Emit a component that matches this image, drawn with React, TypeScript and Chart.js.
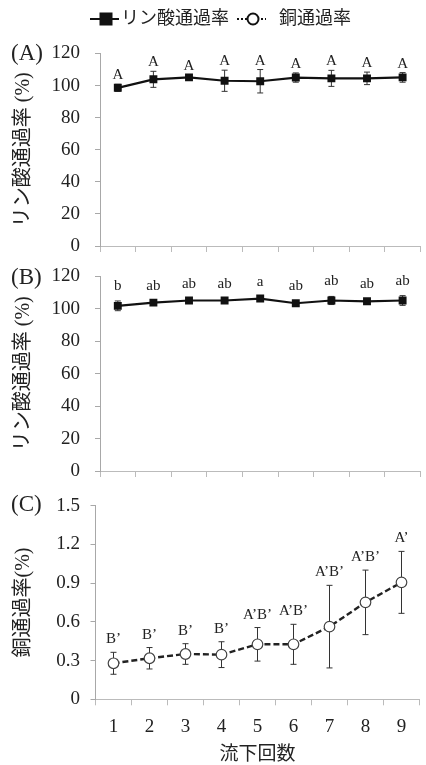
import React, { useEffect, useRef } from "react";
import { Chart, registerables } from "chart.js";

Chart.register(...registerables);

// ---------------- data ----------------
const categories = ["1", "2", "3", "4", "5", "6", "7", "8", "9"];

const phosA = [98.6, 103.9, 105.1, 103.0, 102.7, 105.0, 104.5, 104.5, 105.1];
const phosAErr = [2.2, 5.0, 1.6, 6.6, 7.3, 2.9, 5.0, 3.9, 3.0];
const phosALetters = ["A", "A", "A", "A", "A", "A", "A", "A", "A"];

const phosB = [101.9, 103.9, 105.2, 105.2, 106.4, 103.5, 105.2, 104.7, 105.2];
const phosBErr = [3.0, 1.2, 1.2, 1.2, 1.2, 1.2, 2.5, 1.2, 3.0];
const phosBLetters = ["b", "ab", "ab", "ab", "a", "ab", "ab", "ab", "ab"];

const copperC = [0.279, 0.318, 0.351, 0.346, 0.426, 0.426, 0.563, 0.751, 0.906];
const copperCErr = [0.085, 0.083, 0.08, 0.1, 0.13, 0.155, 0.32, 0.25, 0.24];
const copperCLetters = ["B’", "B’", "B’", "B’", "A’B’", "A’B’", "A’B’", "A’B’", "A’"];

const phosTicks = { min: 0, max: 120, step: 20 };
const copperTicks = { min: 0, max: 1.5, step: 0.3 };

const phosTitle = "リン酸通過率 (%)";
const copperTitle = "銅通過率(%)";
const xTitle = "流下回数";
const legendPhos = "リン酸通過率";
const legendCopper = "銅通過率";
const panelNames = ["(A)", "(B)", "(C)"];

// ---------------- styles ----------------
const SERIF = "'Liberation Serif', 'Noto Sans CJK JP', serif";
const CJK = "'Liberation Serif', 'Noto Sans CJK JP', sans-serif";
const TEXT = "#222";
const AXIS = "#a8a8a8";

function errorPlugin(err: number[], letters: string[], gap: number) {
  return {
    id: "errbars",
    beforeDatasetsDraw(chart: any) {
      const meta = chart.getDatasetMeta(0);
      const ys = chart.scales.y;
      const data = chart.data.datasets[0].data as number[];
      const ctx = chart.ctx;
      ctx.save();
      ctx.strokeStyle = "#333";
      ctx.lineWidth = 1;
      meta.data.forEach((pt: any, i: number) => {
        const top = ys.getPixelForValue(data[i] + err[i]);
        const bot = ys.getPixelForValue(data[i] - err[i]);
        ctx.beginPath();
        ctx.moveTo(pt.x, top);
        ctx.lineTo(pt.x, bot);
        ctx.moveTo(pt.x - 3, top);
        ctx.lineTo(pt.x + 3, top);
        ctx.moveTo(pt.x - 3, bot);
        ctx.lineTo(pt.x + 3, bot);
        ctx.stroke();
      });
      ctx.restore();
    },
    afterDatasetsDraw(chart: any) {
      const meta = chart.getDatasetMeta(0);
      const ys = chart.scales.y;
      const data = chart.data.datasets[0].data as number[];
      const ctx = chart.ctx;
      ctx.save();
      ctx.fillStyle = TEXT;
      ctx.font = `15px ${SERIF}`;
      ctx.textAlign = "center";
      ctx.textBaseline = "alphabetic";
      meta.data.forEach((pt: any, i: number) => {
        const top = ys.getPixelForValue(data[i] + err[i]);
        ctx.fillText(letters[i], pt.x, top - gap);
      });
      ctx.restore();
    },
  };
}

function panelLabelPlugin(text: string, y: number) {
  return {
    id: "panelLabel",
    afterDraw(chart: any) {
      const ctx = chart.ctx;
      ctx.save();
      ctx.fillStyle = TEXT;
      ctx.font = `23px ${SERIF}`;
      ctx.textAlign = "left";
      ctx.textBaseline = "middle";
      ctx.fillText(text, 11, y);
      ctx.restore();
    },
  };
}

const legendPlugin = {
  id: "topLegend",
  afterDraw(chart: any) {
    const ctx = chart.ctx;
    const y = 19;
    ctx.save();
    // solid line + square
    ctx.strokeStyle = "#111";
    ctx.lineWidth = 2;
    ctx.beginPath();
    ctx.moveTo(90, y);
    ctx.lineTo(119, y);
    ctx.stroke();
    ctx.fillStyle = "#111";
    ctx.fillRect(99.5, y - 6.5, 13, 13);
    // dotted line + circle
    ctx.setLineDash([2, 2]);
    ctx.beginPath();
    ctx.moveTo(237, y);
    ctx.lineTo(266, y);
    ctx.stroke();
    ctx.setLineDash([]);
    ctx.beginPath();
    ctx.arc(253, y, 5.5, 0, Math.PI * 2);
    ctx.fillStyle = "#fff";
    ctx.fill();
    ctx.lineWidth = 2;
    ctx.strokeStyle = "#111";
    ctx.stroke();
    // texts
    ctx.fillStyle = TEXT;
    ctx.font = `18px ${CJK}`;
    ctx.textAlign = "left";
    ctx.textBaseline = "middle";
    ctx.fillText(legendPhos, 121, y);
    ctx.fillText(legendCopper, 279, y);
    ctx.restore();
  },
};

interface PanelCfg {
  values: number[];
  err: number[];
  letters: string[];
  gap: number;
  ticks: { min: number; max: number; step: number };
  yTitle: string;
  yWidth: number;
  tickPad: number;
  xHeight: number;
  padTop: number;
  height: number;
  dashed: boolean;
  showX: boolean;
  label: string;
  labelY: number;
  legend: boolean;
}

function Panel({ cfg, top }: { cfg: PanelCfg; top: number }) {
  const ref = useRef<HTMLCanvasElement | null>(null);
  useEffect(() => {
    if (!ref.current) return;
    const plugins: any[] = [
      errorPlugin(cfg.err, cfg.letters, cfg.gap),
      panelLabelPlugin(cfg.label, cfg.labelY),
    ];
    if (cfg.legend) plugins.push(legendPlugin);
    const ds: any = cfg.dashed
      ? {
          data: cfg.values,
          borderColor: "#222",
          borderWidth: 2.4,
          borderDash: [6, 3],
          pointStyle: "circle",
          pointRadius: 5.3,
          pointBackgroundColor: "#fff",
          pointBorderColor: "#444",
          pointBorderWidth: 1.2,
          tension: 0,
        }
      : {
          data: cfg.values,
          borderColor: "#111",
          borderWidth: 2.2,
          pointStyle: "rect",
          pointRadius: 5.6,
          pointBackgroundColor: "#111",
          pointBorderColor: "#111",
          pointBorderWidth: 0,
          tension: 0,
        };
    const chart = new Chart(ref.current, {
      type: "line",
      data: { labels: categories, datasets: [ds] },
      plugins,
      options: {
        responsive: false,
        animation: false,
        devicePixelRatio: 1,
        layout: { padding: { top: cfg.padTop, left: 0, right: 0, bottom: 0 } },
        plugins: { legend: { display: false }, tooltip: { enabled: false } },
        scales: {
          x: {
            type: "category",
            offset: true,
            grid: {
              offset: true,
              drawOnChartArea: false,
              drawTicks: true,
              tickLength: 6,
              color: "#bbb",
            },
            border: { display: true, color: "#bbb", width: 1 },
            ticks: {
              display: cfg.showX,
              padding: 10,
              color: TEXT,
              font: { family: SERIF, size: 19 },
            },
            title: {
              display: cfg.showX,
              text: xTitle,
              color: TEXT,
              font: { family: CJK, size: 19, lineHeight: 1 },
              padding: { top: 0, bottom: 0 },
            },
            afterFit: (s: any) => {
              s.height = cfg.xHeight;
              s.paddingLeft = 0;
              s.paddingRight = 0;
            },
          },
          y: {
            type: "linear",
            min: cfg.ticks.min,
            max: cfg.ticks.max,
            grid: {
              drawOnChartArea: false,
              drawTicks: true,
              tickLength: 5,
              color: AXIS,
            },
            border: { display: true, color: AXIS, width: 1 },
            ticks: {
              stepSize: cfg.ticks.step,
              padding: cfg.tickPad,
              color: TEXT,
              font: { family: SERIF, size: 19 },
              callback: (v: any) => {
                const n = Number(v);
                if (cfg.ticks.step < 1) return n === 0 ? "0" : n.toFixed(1);
                return String(Math.round(n));
              },
            },
            title: {
              display: true,
              text: cfg.yTitle,
              color: TEXT,
              font: { family: CJK, size: 20, lineHeight: 1.2 },
              padding: { top: 12, bottom: 0 },
            },
            afterFit: (s: any) => {
              s.width = cfg.yWidth;
              s.paddingTop = 0;
              s.paddingBottom = 0;
            },
          },
        },
      } as any,
    });
    return () => chart.destroy();
  }, [cfg]);
  return (
    <canvas
      ref={ref}
      width={426}
      height={cfg.height}
      style={{ position: "absolute", left: 0, top, width: 426, height: cfg.height }}
    />
  );
}

const cfgA: PanelCfg = {
  values: phosA,
  err: phosAErr,
  letters: phosALetters,
  gap: 5,
  ticks: phosTicks,
  yTitle: phosTitle,
  yWidth: 100,
  tickPad: 15,
  xHeight: 10,
  padTop: 53.5,
  height: 256,
  dashed: false,
  showX: false,
  label: panelNames[0],
  labelY: 54,
  legend: true,
};

const cfgB: PanelCfg = {
  values: phosB,
  err: phosBErr,
  letters: phosBLetters,
  gap: 11,
  ticks: phosTicks,
  yTitle: phosTitle,
  yWidth: 100,
  tickPad: 15,
  xHeight: 10,
  padTop: 20.5,
  height: 225,
  dashed: false,
  showX: false,
  label: panelNames[1],
  labelY: 22,
  legend: false,
};

const cfgC: PanelCfg = {
  values: copperC,
  err: copperCErr,
  letters: copperCLetters,
  gap: 9,
  ticks: copperTicks,
  yTitle: copperTitle,
  yWidth: 95.5,
  tickPad: 10.5,
  xHeight: 65.7,
  padTop: 24.7,
  height: 284,
  dashed: true,
  showX: true,
  label: panelNames[2],
  labelY: 24,
  legend: false,
};

export default function App() {
  return (
    <div
      style={{
        position: "absolute",
        left: 0,
        top: 0,
        width: 426,
        height: 765,
        background: "#fff",
        overflow: "hidden",
      }}
    >
      <Panel cfg={cfgA} top={0} />
      <Panel cfg={cfgB} top={256} />
      <Panel cfg={cfgC} top={481} />
    </div>
  );
}
